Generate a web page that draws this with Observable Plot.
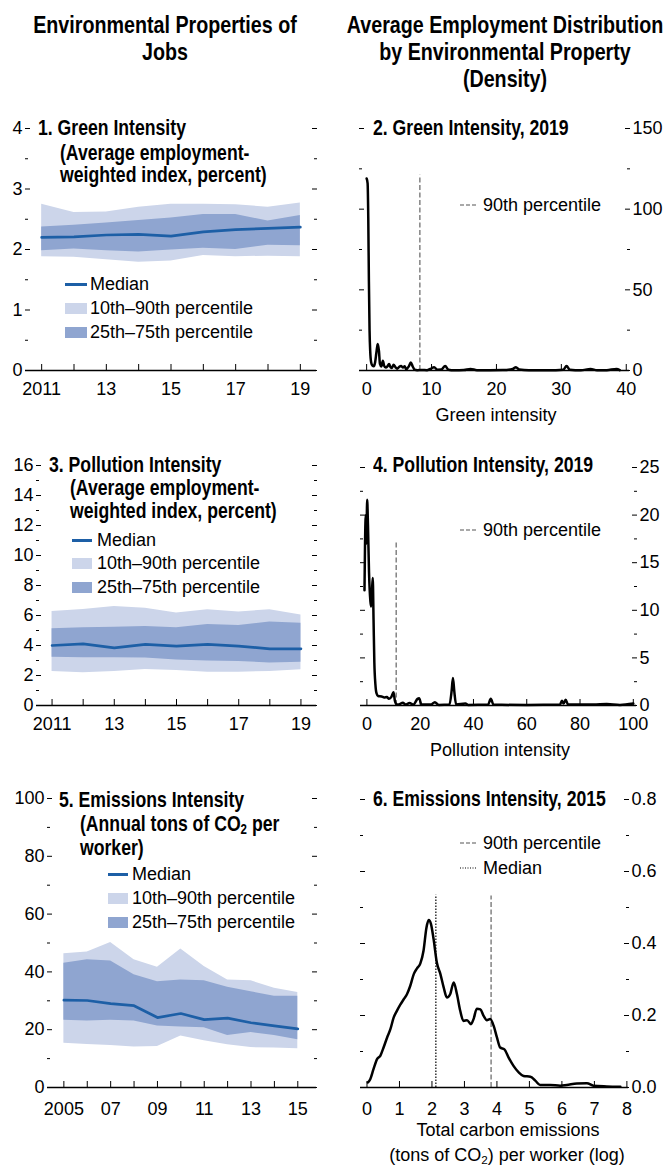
<!DOCTYPE html>
<html><head><meta charset="utf-8">
<script src="https://cdn.jsdelivr.net/npm/d3@7"></script>
<script src="https://cdn.jsdelivr.net/npm/@observablehq/plot@0.6"></script>
<style>
body{margin:0;background:#fff;}
#root{position:relative;width:666px;height:1166px;overflow:hidden;background:#fff;}
.t{position:absolute;white-space:nowrap;font-family:'Liberation Sans',Arial,sans-serif;font-size:18px;line-height:22px;color:#000;z-index:2;}
.b{position:absolute;white-space:nowrap;font-family:'Liberation Sans',Arial,sans-serif;font-weight:bold;font-size:21.5px;line-height:24px;color:#000;z-index:2;transform-origin:0 0;transform:scaleX(0.82);}
.h{font-size:24px;line-height:27px;text-align:center;transform-origin:50% 0;transform:translateX(-50%) scaleX(0.82);}
.c{transform:translateX(-50%);text-align:center;}
.row{position:absolute;display:flex;align-items:center;height:22px;white-space:nowrap;font-family:'Liberation Sans',Arial,sans-serif;font-size:18px;z-index:2;}
.sw{display:inline-block;height:11px;flex:none;}
sub{font-size:0.65em;vertical-align:-0.25em;line-height:0;}
</style></head>
<body>
<div id="root">
  <div class="b h" style="left:165px;top:11px;">Environmental Properties of<br>Jobs</div>
  <div class="b h" style="left:505px;top:11px;">Average Employment Distribution<br>by Environmental Property<br>(Density)</div>

  <div class="b" style="left:38px;top:116px;">1. Green Intensity</div>
  <div class="b" style="left:60px;top:141px;">(Average employment-</div>
  <div class="b" style="left:60px;top:163px;">weighted index, percent)</div>

  <div class="b" style="left:49px;top:453px;">3. Pollution Intensity</div>
  <div class="b" style="left:70px;top:476px;">(Average employment-</div>
  <div class="b" style="left:70px;top:499px;">weighted index, percent)</div>

  <div class="b" style="left:59px;top:788px;">5. Emissions Intensity</div>
  <div class="b" style="left:80px;top:812px;">(Annual tons of CO<sub>2</sub> per</div>
  <div class="b" style="left:80px;top:836px;">worker)</div>

  <div class="b" style="left:373px;top:116px;">2. Green Intensity, 2019</div>
  <div class="b" style="left:373px;top:453px;">4. Pollution Intensity, 2019</div>
  <div class="b" style="left:373px;top:787px;">6. Emissions Intensity, 2015</div>

  <div class="t c" style="left:496px;top:404px;">Green intensity</div>
  <div class="t c" style="left:500px;top:739px;">Pollution intensity</div>
  <div class="t c" style="left:508px;top:1119px;">Total carbon emissions</div>
  <div class="t c" style="left:507px;top:1144px;">(tons of CO<sub>2</sub>) per worker (log)</div>
</div>
<script>
const LIGHT = "#ccd5ea", DARK = "#8fa5d0", BLUE = "#1d5fa6";
const FONT = "'Liberation Sans', Arial, sans-serif";

// ---------- Panel 1: Green intensity (percentiles) ----------
const p1Years = [2011, 2012, 2013, 2014, 2015, 2016, 2017, 2018, 2019];
const p1P10 = [1.88, 1.87, 1.83, 1.79, 1.81, 1.90, 1.88, 1.89, 1.88];
const p1P25 = [1.98, 2.01, 1.98, 1.96, 1.99, 2.02, 2.00, 2.07, 2.06];
const p1P50 = [2.20, 2.21, 2.24, 2.25, 2.22, 2.29, 2.33, 2.35, 2.37];
const p1P75 = [2.37, 2.40, 2.44, 2.48, 2.52, 2.58, 2.58, 2.47, 2.56];
const p1P90 = [2.75, 2.61, 2.62, 2.70, 2.75, 2.75, 2.74, 2.70, 2.77];
const p1YMajor = [0, 1, 2, 3, 4];
const p1YLabels = ["0", "1", "2", "3", "4"];
const p1YMinor = [0.5, 1.5, 2.5, 3.5];
const p1XLabelValues = [2011, 2013, 2015, 2017, 2019];
const p1XLabels = ["2011", "13", "15", "17", "19"];

// ---------- Panel 3: Pollution intensity (percentiles) ----------
const p3Years = [2011, 2012, 2013, 2014, 2015, 2016, 2017, 2018, 2019];
const p3P10 = [2.27, 2.18, 2.27, 2.40, 2.33, 2.22, 2.22, 2.27, 2.38];
const p3P25 = [3.22, 3.18, 3.18, 3.16, 3.04, 2.96, 2.93, 2.84, 2.89];
const p3P50 = [4.00, 4.11, 3.84, 4.07, 3.96, 4.07, 3.96, 3.78, 3.78];
const p3P75 = [5.11, 5.18, 5.22, 5.27, 5.18, 5.40, 5.33, 5.56, 5.49];
const p3P90 = [6.27, 6.40, 6.60, 6.49, 6.16, 6.38, 6.24, 6.38, 6.04];
const p3YMajor = [0, 2, 4, 6, 8, 10, 12, 14, 16];
const p3YLabels = ["0", "2", "4", "6", "8", "10", "12", "14", "16"];
const p3YMinor = [1, 3, 5, 7, 9, 11, 13, 15];
const p3XLabelValues = [2011, 2013, 2015, 2017, 2019];
const p3XLabels = ["2011", "13", "15", "17", "19"];

// ---------- Panel 5: Emissions intensity (percentiles) ----------
const p5Years = [2005, 2006, 2007, 2008, 2009, 2010, 2011, 2012, 2013, 2014, 2015];
const p5P10 = [15.3, 14.9, 14.5, 14.0, 14.2, 17.8, 16.2, 14.8, 13.8, 13.7, 13.4];
const p5P25 = [23.3, 23.0, 23.3, 23.0, 21.3, 20.9, 20.7, 18.0, 19.0, 18.0, 16.5];
const p5P50 = [30.2, 30.1, 29.0, 28.3, 24.2, 25.6, 23.5, 24.0, 22.4, 21.3, 20.3];
const p5P75 = [43.0, 44.2, 43.8, 39.0, 36.6, 37.2, 36.9, 34.7, 33.1, 31.6, 31.6];
const p5P90 = [46.3, 46.9, 50.2, 44.2, 41.6, 47.9, 41.9, 37.2, 36.9, 34.3, 32.9];
const p5YMajor = [0, 20, 40, 60, 80, 100];
const p5YLabels = ["0", "20", "40", "60", "80", "100"];
const p5YMinor = [10, 30, 50, 70, 90];
const p5XLabelValues = [2005, 2007, 2009, 2011, 2013, 2015];
const p5XLabels = ["2005", "07", "09", "11", "13", "15"];

// ---------- Panel 2: Green intensity density, 2019 ----------
const p2X = [0, 0.15, 0.25, 0.35, 0.45, 0.55, 0.7, 0.9, 1.1, 1.3, 1.5, 1.7, 1.9, 2.05, 2.25, 2.5, 2.7, 2.95, 3.2, 3.45, 3.7, 3.9, 4.15, 4.45, 4.7, 5.0, 5.3, 5.6, 5.85, 6.1, 6.5, 6.8, 7.1, 7.4, 7.8, 8.5, 9.3, 9.8, 10.4, 10.9, 11.5, 12.1, 12.6, 13.5, 15, 16, 17, 19, 21, 22.5, 23, 23.5, 25, 28, 30.3, 30.8, 31.3, 33, 34.5, 35.5, 37, 38.5, 39];
const p2Y = [119, 116, 95, 55, 25, 12, 5, 3, 2.6, 5, 11, 16.5, 12, 4, 2.5, 6, 3, 1.8, 2.5, 4, 2, 1.6, 3.5, 2, 1.1, 2.2, 2.8, 1.8, 2.6, 0.8, 2.5, 5, 2.5, 0.5, 0.2, 0.3, 0.2, 1, 2, 0.5, 0.6, 2.8, 0.5, 0.1, 0.3, 1, 0.2, 0.2, 0.3, 1, 2, 0.6, 0.1, 0.1, 0.5, 2.8, 0.5, 0.1, 1, 0.1, 0.2, 1, 0.2];
const p2Pct90 = [8.2], p2Pct90Top = [121];
const p2YMajor = [0, 50, 100, 150];
const p2YLabels = ["0", "50", "100", "150"];
const p2YMinor = [25, 75, 125];
const p2XLabelValues = [0, 10, 20, 30, 40];
const p2XLabels = ["0", "10", "20", "30", "40"];

// ---------- Panel 4: Pollution intensity density, 2019 ----------
const p4X = [-0.9, -0.7, -0.4, -0.2, 0.1, 0.4, 0.8, 1.3, 1.6, 1.9, 2.2, 2.5, 2.8, 3.2, 3.6, 4.2, 5.5, 6.5, 7.5, 8.3, 9.2, 10, 10.5, 11.2, 12, 13.5, 14.5, 16, 17.5, 19, 19.6, 20.5, 24, 25.5, 27, 31, 31.8, 32.3, 32.8, 33.5, 37, 38, 45.5, 46.5, 47.5, 60, 72.5, 73.2, 73.8, 74.6, 75.5, 85, 90, 95, 100];
const p4Y = [12.1, 17, 20, 17, 21.6, 19, 14, 11, 10.4, 12, 13.4, 9, 4.5, 2.2, 1.3, 1.0, 0.95, 0.85, 0.9, 0.7, 0.9, 1.4, 0.5, 0.1, 0.1, 0.3, 0.1, 0.25, 0.1, 0.7, 0.75, 0.1, 0.1, 0.35, 0.05, 0.1, 1.5, 2.9, 1.5, 0.1, 0.2, 0.05, 0.1, 0.7, 0.1, 0.05, 0.1, 0.5, 0.2, 0.6, 0.1, 0.1, 0.15, 0.05, 0.2];
const p4Pct90 = [11.0], p4Pct90Top = [17.3];
const p4YMajor = [0, 5, 10, 15, 20, 25];
const p4YLabels = ["0", "5", "10", "15", "20", "25"];
const p4YMinor = [2.5, 7.5, 12.5, 17.5, 22.5];
const p4XLabelValues = [0, 20, 40, 60, 80, 100];
const p4XLabels = ["0", "20", "40", "60", "80", "100"];

// ---------- Panel 6: Emissions intensity density, 2015 ----------
const p6X = [0.03, 0.1, 0.2, 0.31, 0.41, 0.51, 0.62, 0.72, 0.82, 0.92, 1.03, 1.13, 1.23, 1.33, 1.44, 1.54, 1.64, 1.74, 1.83, 1.90, 1.97, 2.05, 2.15, 2.26, 2.36, 2.46, 2.56, 2.67, 2.77, 2.87, 2.97, 3.08, 3.2, 3.28, 3.38, 3.49, 3.59, 3.69, 3.79, 3.9, 4.0, 4.1, 4.23, 4.36, 4.51, 4.67, 4.82, 5.03, 5.18, 5.33, 5.64, 5.95, 6.15, 6.46, 6.77, 6.97, 7.38, 7.8];
const p6Y = [0.014, 0.023, 0.051, 0.079, 0.088, 0.111, 0.139, 0.162, 0.194, 0.213, 0.231, 0.245, 0.259, 0.282, 0.315, 0.331, 0.344, 0.380, 0.444, 0.465, 0.454, 0.412, 0.347, 0.315, 0.278, 0.250, 0.259, 0.292, 0.259, 0.213, 0.185, 0.187, 0.176, 0.190, 0.219, 0.217, 0.199, 0.187, 0.190, 0.171, 0.139, 0.111, 0.106, 0.083, 0.060, 0.042, 0.032, 0.030, 0.019, 0.007, 0.007, 0.005, 0.007, 0.011, 0.012, 0.005, 0.003, 0.002];
const p6Pct90 = [3.82], p6Pct90Top = [0.532];
const p6Median = [2.12], p6MedianTop = [0.534];
const p6YMajor = [0, 0.2, 0.4, 0.6, 0.8];
const p6YLabels = ["0.0", "0.2", "0.4", "0.6", "0.8"];
const p6YMinor = [0.1, 0.3, 0.5, 0.7];
const p6XLabelValues = [0, 1, 2, 3, 4, 5, 6, 7, 8];
const p6XLabels = ["0", "1", "2", "3", "4", "5", "6", "7", "8"];

const root = document.getElementById("root");

function table(years, p10, p25, p50, p75, p90) {
  return years.map((year, i) => ({year, p10: p10[i], p25: p25[i], p50: p50[i], p75: p75[i], p90: p90[i]}));
}
function bandMarks(data) {
  return [
    Plot.areaY(data, {x: "year", y1: "p10", y2: "p90", fill: LIGHT}),
    Plot.areaY(data, {x: "year", y1: "p25", y2: "p75", fill: DARK}),
    Plot.lineY(data, {x: "year", y: "p50", stroke: BLUE, strokeWidth: 2.7})
  ];
}
function densityMarks(xs, ys, rules) {
  const pts = xs.map((x, i) => [x, ys[i]]);
  return [
    ...rules,
    Plot.line(pts, {curve: "monotone-x", stroke: "#000", strokeWidth: 2.5, strokeLinejoin: "round"})
  ];
}
function pctRule(xs, tops, dash) {
  return Plot.ruleX(xs, {x: d => d, y1: 0, y2: (d, i) => tops[i], stroke: dash === "dot" ? "#000" : "#7a7a7a", strokeWidth: dash === "dot" ? 1.2 : 1.4, strokeDasharray: dash === "dot" ? "1.5,1.5" : "5,2.5"});
}

function panel(o) {
  const xMap = new Map(o.xLabelValues.map((v, i) => [v, o.xLabels[i]]));
  const yMap = new Map(o.yMajor.map((v, i) => [v, o.yLabels[i]]));
  const blank = () => "";
  const svg = Plot.plot({
    width: o.width, height: o.height,
    marginTop: o.m[0], marginRight: o.m[1], marginBottom: o.m[2], marginLeft: o.m[3],
    x: {domain: o.xDomain},
    y: {domain: o.yDomain},
    style: {fontFamily: FONT, fontSize: "18px", overflow: "visible", background: "none", color: "#000"},
    marks: [
      ...o.marks,
      Plot.ruleY([0], {stroke: "#000", strokeWidth: 1.3}),
      Plot.axisY(o.yMajor, {anchor: "left", tickSize: -5, tickFormat: blank, label: null}),
      Plot.axisY(o.yMajor, {anchor: "right", tickSize: -5, tickFormat: blank, label: null}),
      Plot.axisY(o.yMinor, {anchor: "left", tickSize: -3, tickFormat: blank, label: null}),
      Plot.axisY(o.yMinor, {anchor: "right", tickSize: -3, tickFormat: blank, label: null}),
      Plot.axisY(o.yMajor, {anchor: o.labelSide, tickSize: 0, tickPadding: 3, tickFormat: d => yMap.get(d), label: null}),
      Plot.axisX(o.xTicks, {anchor: "bottom", tickSize: -6, tickFormat: blank, label: null}),
      Plot.axisX(o.xLabelValues, {anchor: "bottom", tickSize: 0, tickPadding: o.xPad, tickFormat: d => xMap.get(d), label: null})
    ]
  });
  svg.style.position = "absolute";
  svg.style.left = o.left + "px";
  svg.style.top = o.top + "px";
  svg.style.zIndex = 1;
  root.appendChild(svg);
}

panel({left: 0, top: 100, width: 333, height: 310, m: [28, 17, 40, 25],
  xDomain: [2010.5, 2019.5], yDomain: [0, 4], labelSide: "left",
  yMajor: p1YMajor, yLabels: p1YLabels, yMinor: p1YMinor,
  xTicks: p1Years, xLabelValues: p1XLabelValues, xLabels: p1XLabels, xPad: 12,
  marks: bandMarks(table(p1Years, p1P10, p1P25, p1P50, p1P75, p1P90))});

panel({left: 0, top: 440, width: 333, height: 310, m: [25, 17, 45, 36],
  xDomain: [2010.5, 2019.5], yDomain: [0, 16], labelSide: "left",
  yMajor: p3YMajor, yLabels: p3YLabels, yMinor: p3YMinor,
  xTicks: p3Years, xLabelValues: p3XLabelValues, xLabels: p3XLabels, xPad: 12,
  marks: bandMarks(table(p3Years, p3P10, p3P25, p3P50, p3P75, p3P90))});

panel({left: 0, top: 770, width: 333, height: 350, m: [28, 17, 33, 47],
  xDomain: [2004.3, 2015.8], yDomain: [0, 100], labelSide: "left",
  yMajor: p5YMajor, yLabels: p5YLabels, yMinor: p5YMinor,
  xTicks: p5Years, xLabelValues: p5XLabelValues, xLabels: p5XLabels, xPad: 15,
  marks: bandMarks(table(p5Years, p5P10, p5P25, p5P50, p5P75, p5P90))});

panel({left: 333, top: 100, width: 333, height: 310, m: [28, 37, 40, 26],
  xDomain: [-1.1, 40.5], yDomain: [0, 150], labelSide: "right",
  yMajor: p2YMajor, yLabels: p2YLabels, yMinor: p2YMinor,
  xTicks: p2XLabelValues, xLabelValues: p2XLabelValues, xLabels: p2XLabels, xPad: 12,
  marks: densityMarks(p2X, p2Y, [pctRule(p2Pct90, p2Pct90Top, "dash")])});

panel({left: 333, top: 440, width: 333, height: 310, m: [27, 30, 45, 27],
  xDomain: [-2.4, 101.2], yDomain: [0, 25], labelSide: "right",
  yMajor: p4YMajor, yLabels: p4YLabels, yMinor: p4YMinor,
  xTicks: p4XLabelValues, xLabelValues: p4XLabelValues, xLabels: p4XLabels, xPad: 12,
  marks: densityMarks(p4X, p4Y, [pctRule(p4Pct90, p4Pct90Top, "dash")])});

panel({left: 333, top: 770, width: 333, height: 350, m: [29, 38, 33, 27],
  xDomain: [-0.2, 8.05], yDomain: [0, 0.8], labelSide: "right",
  yMajor: p6YMajor, yLabels: p6YLabels, yMinor: p6YMinor,
  xTicks: p6XLabelValues, xLabelValues: p6XLabelValues, xLabels: p6XLabels, xPad: 15,
  marks: densityMarks(p6X, p6Y, [pctRule(p6Median, p6MedianTop, "dot"), pctRule(p6Pct90, p6Pct90Top, "dash")])});

// ---------- Legends ----------
const bandLegendLabels = ["Median", "10th–90th percentile", "25th–75th percentile"];
const bandLegendPos = [
  {x: 65, w: 22, gap: 3, ys: [284, 308, 332]},
  {x: 72, w: 20, gap: 5, ys: [540, 563, 587]},
  {x: 108, w: 20, gap: 4, ys: [874, 898, 922]}
];
bandLegendPos.forEach(p => {
  bandLegendLabels.forEach((lab, i) => {
    const row = document.createElement("div");
    row.className = "row";
    row.style.left = p.x + "px";
    row.style.top = (p.ys[i] - 11) + "px";
    const sw = document.createElement("span");
    sw.className = "sw";
    sw.style.width = p.w + "px";
    sw.style.marginRight = p.gap + "px";
    if (i === 0) { sw.style.height = "3px"; sw.style.background = BLUE; }
    else sw.style.background = i === 1 ? LIGHT : DARK;
    row.appendChild(sw);
    row.appendChild(document.createTextNode(lab));
    root.appendChild(row);
  });
});

const lineLegends = [
  {y: 205, label: "90th percentile", dash: "dash"},
  {y: 530, label: "90th percentile", dash: "dash"},
  {y: 843, label: "90th percentile", dash: "dash"},
  {y: 868, label: "Median", dash: "dot"}
];
lineLegends.forEach(l => {
  const row = document.createElement("div");
  row.className = "row";
  row.style.left = "460px";
  row.style.top = (l.y - 11) + "px";
  const ns = "http://www.w3.org/2000/svg";
  const s = document.createElementNS(ns, "svg");
  s.setAttribute("width", "16"); s.setAttribute("height", "4");
  s.style.marginRight = "7px";
  const ln = document.createElementNS(ns, "line");
  ln.setAttribute("x1", "0"); ln.setAttribute("x2", "16"); ln.setAttribute("y1", "2"); ln.setAttribute("y2", "2");
  ln.setAttribute("stroke", l.dash === "dot" ? "#000" : "#555");
  ln.setAttribute("stroke-width", "1.2");
  ln.setAttribute("stroke-dasharray", l.dash === "dot" ? "1,1.5" : "4,2");
  s.appendChild(ln);
  row.appendChild(s);
  row.appendChild(document.createTextNode(l.label));
  root.appendChild(row);
});
</script>
</body></html>
